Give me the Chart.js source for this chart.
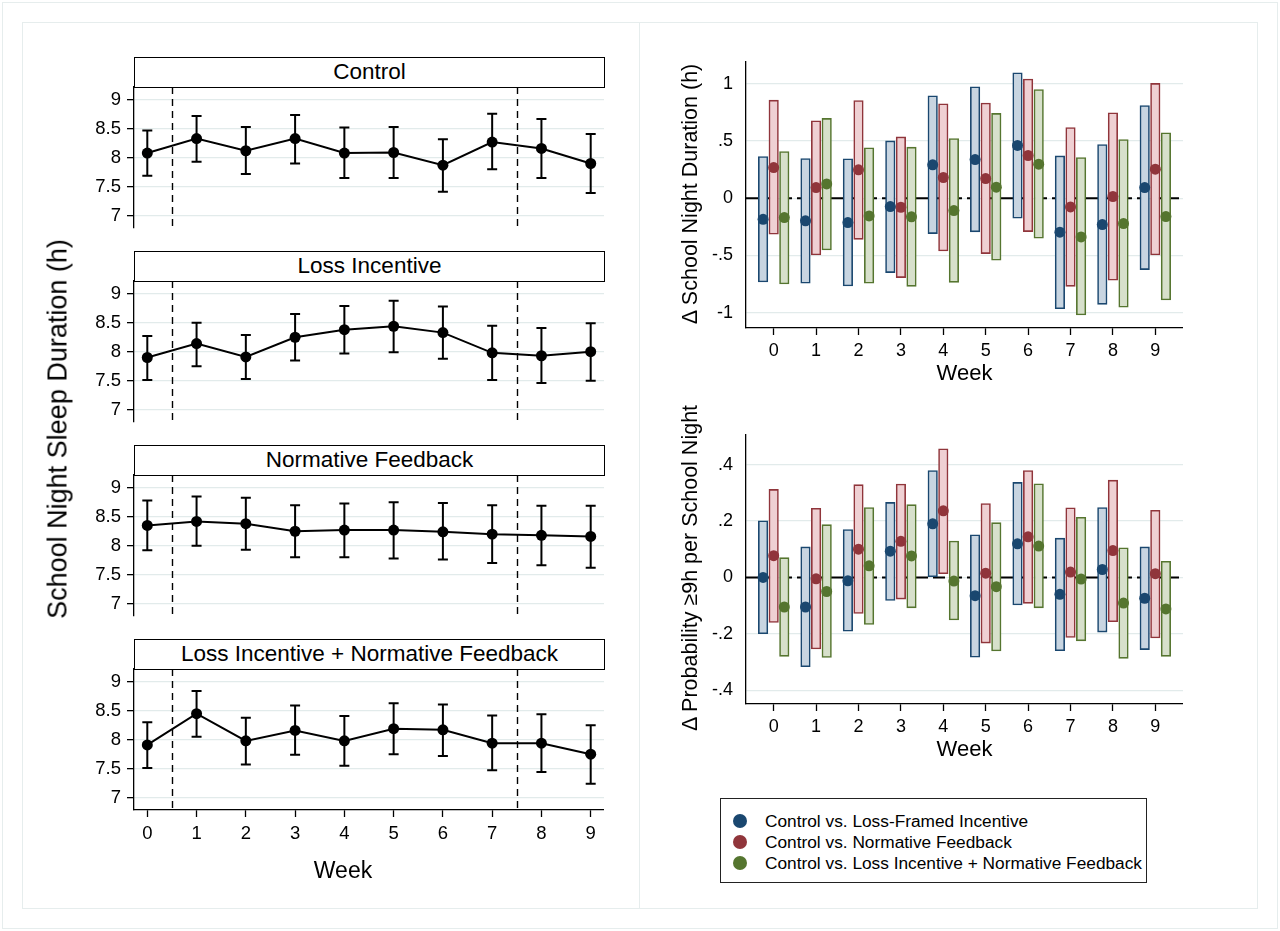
<!DOCTYPE html>
<html>
<head>
<meta charset="utf-8">
<script src="https://cdn.jsdelivr.net/npm/chart.js@4.4.1/dist/chart.umd.min.js"></script>
<style>
  html, body { margin:0; padding:0; background:#fff; }
  body { width:1280px; height:931px; position:relative; overflow:hidden; font-family:"Liberation Sans", Arial, Helvetica, sans-serif; color:#000; }
  .frame { position:absolute; border:1px solid #e6eded; box-sizing:border-box; }
  canvas { position:absolute; }
  .ptitle { position:absolute; left:134px; width:471px; height:31px; border:1.3px solid #000; box-sizing:border-box; text-align:center; font-size:22.5px; line-height:28px; background:#fff; }
  .rot { position:absolute; white-space:nowrap; transform:translate(-50%,-50%) rotate(-90deg); }
  .lbl { position:absolute; white-space:nowrap; transform:translate(-50%,-50%); }
  #legend { position:absolute; left:720px; top:798px; width:427px; height:85px; border:1.3px solid #222; box-sizing:border-box; }
  .litem { position:absolute; left:0; height:20px; font-size:17.3px; line-height:20px; white-space:nowrap; }
  .ldot { position:absolute; left:12px; top:3px; width:14px; height:14px; border-radius:50%; }
  .ltxt { position:absolute; left:44px; top:0; }
</style>
</head>
<body>
<div class="frame" style="left:2px;top:2px;width:1276px;height:927px;"></div>
<div class="frame" style="left:22px;top:22px;width:618px;height:887px;"></div>
<div class="frame" style="left:639px;top:22px;width:619px;height:887px;"></div>

<canvas id="p0" width="534" height="181" style="left:70px;top:67px;"></canvas>
<canvas id="p1" width="534" height="181" style="left:70px;top:261px;"></canvas>
<canvas id="p2" width="534" height="181" style="left:70px;top:455px;"></canvas>
<canvas id="p3" width="534" height="241" style="left:70px;top:649px;"></canvas>

<canvas id="r0" width="511" height="353" style="left:672px;top:40px;"></canvas>
<canvas id="r1" width="511" height="356" style="left:672px;top:413px;"></canvas>

<div id="titles"></div>
<div class="rot" id="leftYTitle" style="left:58px;top:429px;font-size:27px;"></div>
<div class="lbl" id="leftXTitle" style="left:343px;top:870px;font-size:23px;"></div>
<div class="rot" id="durYTitle" style="left:690px;top:194px;font-size:21.5px;"></div>
<div class="rot" id="probYTitle" style="left:690px;top:568px;font-size:21.5px;"></div>
<div id="legend"></div>

<script>
// ---------------- DATA ----------------
const weeks = [0, 1, 2, 3, 4, 5, 6, 7, 8, 9];
const weekLabels = ['0', '1', '2', '3', '4', '5', '6', '7', '8', '9'];
const phaseBreaks = [0.5, 7.5];

const panelTitles = ['Control', 'Loss Incentive', 'Normative Feedback', 'Loss Incentive + Normative Feedback'];
const sleepTicks = [7, 7.5, 8, 8.5, 9];
const sleepTickLabels = ['7', '7.5', '8', '8.5', '9'];
const leftYTitle = 'School Night Sleep Duration (h)';
const xTitle = 'Week';

// Left panels: mean and 95% CI
const controlMean = [8.08, 8.33, 8.12, 8.33, 8.08, 8.09, 7.87, 8.27, 8.16, 7.90];
const controlLow  = [7.69, 7.93, 7.72, 7.90, 7.65, 7.65, 7.41, 7.80, 7.65, 7.39];
const controlHigh = [8.47, 8.72, 8.53, 8.74, 8.52, 8.53, 8.32, 8.76, 8.67, 8.41];

const lossMean = [7.90, 8.14, 7.91, 8.25, 8.38, 8.44, 8.33, 7.98, 7.93, 8.00];
const lossLow  = [7.51, 7.75, 7.53, 7.85, 7.97, 7.99, 7.88, 7.51, 7.46, 7.50];
const lossHigh = [8.27, 8.50, 8.29, 8.65, 8.79, 8.88, 8.78, 8.45, 8.41, 8.49];

const normMean = [8.35, 8.42, 8.38, 8.25, 8.27, 8.27, 8.24, 8.20, 8.18, 8.16];
const normLow  = [7.92, 8.00, 7.93, 7.80, 7.80, 7.78, 7.76, 7.70, 7.66, 7.62];
const normHigh = [8.78, 8.85, 8.83, 8.70, 8.73, 8.75, 8.74, 8.70, 8.69, 8.69];

const comboMean = [7.91, 8.45, 7.98, 8.16, 7.98, 8.19, 8.17, 7.94, 7.94, 7.75];
const comboLow  = [7.51, 8.05, 7.57, 7.74, 7.55, 7.75, 7.72, 7.47, 7.44, 7.24];
const comboHigh = [8.30, 8.84, 8.38, 8.59, 8.41, 8.63, 8.61, 8.42, 8.44, 8.25];

// Right top: difference in school-night duration (h)
const durTicks = [-1, -0.5, 0, 0.5, 1];
const durTickLabels = ['-1', '-.5', '0', '.5', '1'];
const durTitle = '\u0394 School Night Duration (h)';
const lossDurEst  = [-0.184, -0.198, -0.213, -0.073, 0.292, 0.338, 0.461, -0.297, -0.230, 0.093];
const lossDurLow  = [-0.732, -0.743, -0.767, -0.650, -0.309, -0.294, -0.175, -0.965, -0.927, -0.624];
const lossDurHigh = [0.364, 0.347, 0.344, 0.501, 0.895, 0.974, 1.096, 0.370, 0.469, 0.810];
const normDurEst  = [0.268, 0.093, 0.248, -0.079, 0.181, 0.172, 0.373, -0.076, 0.015, 0.254];
const normDurLow  = [-0.315, -0.496, -0.359, -0.694, -0.461, -0.484, -0.292, -0.770, -0.717, -0.496];
const normDurHigh = [0.857, 0.676, 0.854, 0.536, 0.825, 0.831, 1.041, 0.618, 0.746, 1.003];
const comboDurEst  = [-0.169, 0.125, -0.155, -0.163, -0.108, 0.096, 0.297, -0.338, -0.222, -0.160];
const comboDurLow  = [-0.749, -0.452, -0.743, -0.770, -0.735, -0.542, -0.350, -1.020, -0.953, -0.889];
const comboDurHigh = [0.408, 0.697, 0.440, 0.446, 0.522, 0.741, 0.950, 0.356, 0.513, 0.571];

// Right bottom: difference in probability of >= 9h per school night
const probTicks = [-0.4, -0.2, 0, 0.2, 0.4];
const probTickLabels = ['-.4', '-.2', '0', '.2', '.4'];
const probTitle = '\u0394 Probability \u22659h per School Night';
const lossProbEst  = [0.000, -0.105, -0.012, 0.093, 0.190, -0.065, 0.119, -0.060, 0.028, -0.074];
const lossProbLow  = [-0.200, -0.317, -0.191, -0.082, 0.000, -0.283, -0.098, -0.260, -0.194, -0.256];
const lossProbHigh = [0.201, 0.108, 0.170, 0.266, 0.379, 0.151, 0.337, 0.139, 0.248, 0.108];
const normProbEst  = [0.077, -0.005, 0.100, 0.128, 0.236, 0.015, 0.144, 0.019, 0.095, 0.013];
const normProbLow  = [-0.160, -0.254, -0.128, -0.077, 0.013, -0.233, -0.092, -0.213, -0.157, -0.215];
const normProbHigh = [0.312, 0.245, 0.329, 0.331, 0.456, 0.262, 0.379, 0.247, 0.345, 0.238];
const comboProbEst  = [-0.105, -0.050, 0.041, 0.076, -0.013, -0.033, 0.111, -0.006, -0.091, -0.112];
const comboProbLow  = [-0.280, -0.284, -0.167, -0.108, -0.151, -0.261, -0.108, -0.225, -0.287, -0.280];
const comboProbHigh = [0.070, 0.187, 0.248, 0.258, 0.129, 0.194, 0.332, 0.213, 0.105, 0.057];

const seriesNames = ['Control vs. Loss-Framed Incentive', 'Control vs. Normative Feedback', 'Control vs. Loss Incentive + Normative Feedback'];

// ---------------- STYLE ----------------
const lineColors = ['#1a476f', '#90353b', '#55752f'];
const fillColors = ['#c8d5e1', '#efd0d3', '#d7e0cb'];
const barOffsets = [-0.25, 0, 0.25];
const gridColor = '#e2ebeb';
const FONT = "'Liberation Sans', Arial, Helvetica, sans-serif";

Chart.defaults.font.family = FONT;
Chart.defaults.color = '#000';

// ---------------- PLUGINS ----------------
const errorBarPlugin = {
  id: 'errbars',
  beforeDatasetsDraw(chart, args, opts) {
    if (!opts || !opts.low) return;
    const {ctx, scales: {x, y}} = chart;
    ctx.save();
    ctx.strokeStyle = '#000';
    ctx.lineWidth = 2;
    opts.low.forEach((lo, i) => {
      const px = x.getPixelForValue(opts.xs[i]);
      const p1 = y.getPixelForValue(lo);
      const p2 = y.getPixelForValue(opts.high[i]);
      ctx.beginPath();
      ctx.moveTo(px, p1); ctx.lineTo(px, p2);
      ctx.moveTo(px - 5, p1); ctx.lineTo(px + 5, p1);
      ctx.moveTo(px - 5, p2); ctx.lineTo(px + 5, p2);
      ctx.stroke();
    });
    ctx.restore();
  }
};

const vlinePlugin = {
  id: 'vlines',
  beforeDatasetsDraw(chart, args, opts) {
    if (!opts || !opts.values) return;
    const {ctx, chartArea, scales: {x}} = chart;
    ctx.save();
    ctx.strokeStyle = '#000';
    ctx.lineWidth = 1.4;
    ctx.setLineDash([7, 5]);
    opts.values.forEach(v => {
      const px = Math.round(x.getPixelForValue(v)) + 0.5;
      ctx.beginPath();
      ctx.moveTo(px, chartArea.top);
      ctx.lineTo(px, chartArea.bottom);
      ctx.stroke();
    });
    ctx.restore();
  }
};

const zeroLinePlugin = {
  id: 'zeroline',
  beforeDatasetsDraw(chart, args, opts) {
    if (!opts || opts.value === undefined) return;
    const {ctx, chartArea, scales: {y}} = chart;
    const py = y.getPixelForValue(opts.value);
    ctx.save();
    ctx.strokeStyle = '#000';
    ctx.lineWidth = 2;
    ctx.setLineDash([12, 5]);
    ctx.beginPath();
    ctx.moveTo(chartArea.left, py);
    ctx.lineTo(chartArea.right - 4, py);
    ctx.stroke();
    ctx.restore();
  }
};

// ---------------- LEFT PANELS ----------------
function makeLeft(canvasId, mean, low, high, showX) {
  const pts = weeks.map((w, i) => ({x: w, y: mean[i]}));
  const xScale = {
    type: 'linear', min: -0.27, max: 9.27, display: showX, offset: false,
    afterBuildTicks: s => { s.ticks = weeks.map(v => ({value: v})); },
    ticks: { callback: (v, i) => weekLabels[i], font: {size: 18.5}, padding: 6, maxRotation: 0, autoSkip: false },
    grid: { drawOnChartArea: false, offset: false, tickLength: 7, tickColor: '#000', tickWidth: 1.3 },
    border: { color: '#000', width: 1.3 }
  };
  if (showX) xScale.afterFit = s => { s.height = 80; };
  new Chart(document.getElementById(canvasId), {
    type: 'line',
    data: { datasets: [{
      data: pts, borderColor: '#000', borderWidth: 2, tension: 0,
      pointRadius: 5.5, pointBackgroundColor: '#000', pointBorderColor: '#000', pointBorderWidth: 0
    }]},
    options: {
      animation: false, responsive: false, events: [],
      layout: { padding: {top: 20, bottom: showX ? 0 : 20, left: 0, right: 0}, autoPadding: false },
      plugins: {
        legend: {display: false}, tooltip: {enabled: false},
        errbars: {xs: weeks, low: low, high: high},
        vlines: {values: phaseBreaks}
      },
      scales: {
        x: xScale,
        y: {
          min: 6.785, max: 9.222,
          afterBuildTicks: s => { s.ticks = sleepTicks.map(v => ({value: v})); },
          ticks: { callback: (v, i) => sleepTickLabels[i], font: {size: 18.5}, padding: 6, autoSkip: false },
          grid: { color: gridColor, lineWidth: 1.3, tickLength: 7, tickColor: '#000', tickWidth: 1.3 },
          border: { color: '#000', width: 1.3 },
          afterFit: s => { s.width = 64; }
        }
      }
    },
    plugins: [errorBarPlugin, vlinePlugin]
  });
}

makeLeft('p0', controlMean, controlLow, controlHigh, false);
makeLeft('p1', lossMean, lossLow, lossHigh, false);
makeLeft('p2', normMean, normLow, normHigh, false);
makeLeft('p3', comboMean, comboLow, comboHigh, true);

// ---------------- RIGHT PANELS ----------------
function makeRight(canvasId, series, ticks, tickLabels, yMin, yMax) {
  const datasets = [];
  series.forEach((s, k) => {
    datasets.push({
      type: 'bar', order: 2, grouped: false,
      data: weeks.map((w, i) => ({x: w + barOffsets[k], y: [s.low[i], s.high[i]]})),
      backgroundColor: fillColors[k], borderColor: lineColors[k], borderWidth: 1.6,
      borderSkipped: false, barThickness: 9.5
    });
  });
  series.forEach((s, k) => {
    datasets.push({
      type: 'scatter', order: 1,
      data: weeks.map((w, i) => ({x: w + barOffsets[k], y: s.est[i]})),
      backgroundColor: lineColors[k], borderColor: lineColors[k], pointRadius: 5.5, pointBorderWidth: 0
    });
  });
  new Chart(document.getElementById(canvasId), {
    type: 'bar',
    data: { datasets },
    options: {
      animation: false, responsive: false, events: [],
      layout: { padding: {top: 22, bottom: 0, left: 0, right: 0}, autoPadding: false },
      plugins: { legend: {display: false}, tooltip: {enabled: false}, zeroline: {value: 0} },
      scales: {
        x: {
          type: 'linear', min: -0.653, max: 9.653, offset: false,
          afterBuildTicks: s => { s.ticks = weeks.map(v => ({value: v})); },
          ticks: { callback: (v, i) => weekLabels[i], font: {size: 18}, padding: 5, maxRotation: 0, autoSkip: false },
          grid: { drawOnChartArea: false, offset: false, tickLength: 7, tickColor: '#000', tickWidth: 1.3 },
          border: { color: '#000', width: 1.3 },
          title: { display: true, text: xTitle, font: {size: 22}, padding: {top: 0, bottom: 6} },
          afterFit: s => { s.height = 65; }
        },
        y: {
          min: yMin, max: yMax,
          afterBuildTicks: s => { s.ticks = ticks.map(v => ({value: v})); },
          ticks: { callback: (v, i) => tickLabels[i], font: {size: 18}, padding: 6, autoSkip: false },
          grid: { color: gridColor, lineWidth: 1.3, tickLength: 7, tickColor: 'rgba(0,0,0,0)' },
          border: { color: '#000', width: 1.3 },
          afterFit: s => { s.width = 74; }
        }
      }
    },
    plugins: [zeroLinePlugin]
  });
}

makeRight('r0', [
  {est: lossDurEst, low: lossDurLow, high: lossDurHigh},
  {est: normDurEst, low: normDurLow, high: normDurHigh},
  {est: comboDurEst, low: comboDurLow, high: comboDurHigh}
], durTicks, durTickLabels, -1.134, 1.19);

makeRight('r1', [
  {est: lossProbEst, low: lossProbLow, high: lossProbHigh},
  {est: normProbEst, low: normProbLow, high: normProbHigh},
  {est: comboProbEst, low: comboProbLow, high: comboProbHigh}
], probTicks, probTickLabels, -0.449, 0.505);

// ---------------- TEXT ELEMENTS ----------------
const titleTops = [57, 251, 445, 639];
const titlesDiv = document.getElementById('titles');
panelTitles.forEach((t, i) => {
  const d = document.createElement('div');
  d.className = 'ptitle';
  d.style.top = titleTops[i] + 'px';
  d.textContent = t;
  titlesDiv.appendChild(d);
});
document.getElementById('leftYTitle').textContent = leftYTitle;
document.getElementById('leftXTitle').textContent = xTitle;
document.getElementById('durYTitle').textContent = durTitle;
document.getElementById('probYTitle').textContent = probTitle;

const legend = document.getElementById('legend');
const legendTops = [12, 33, 54];
seriesNames.forEach((n, k) => {
  const item = document.createElement('div');
  item.className = 'litem';
  item.style.top = legendTops[k] + 'px';
  const dot = document.createElement('div');
  dot.className = 'ldot';
  dot.style.background = lineColors[k];
  const txt = document.createElement('div');
  txt.className = 'ltxt';
  txt.textContent = n;
  item.appendChild(dot); item.appendChild(txt);
  legend.appendChild(item);
});
</script>
</body>
</html>
